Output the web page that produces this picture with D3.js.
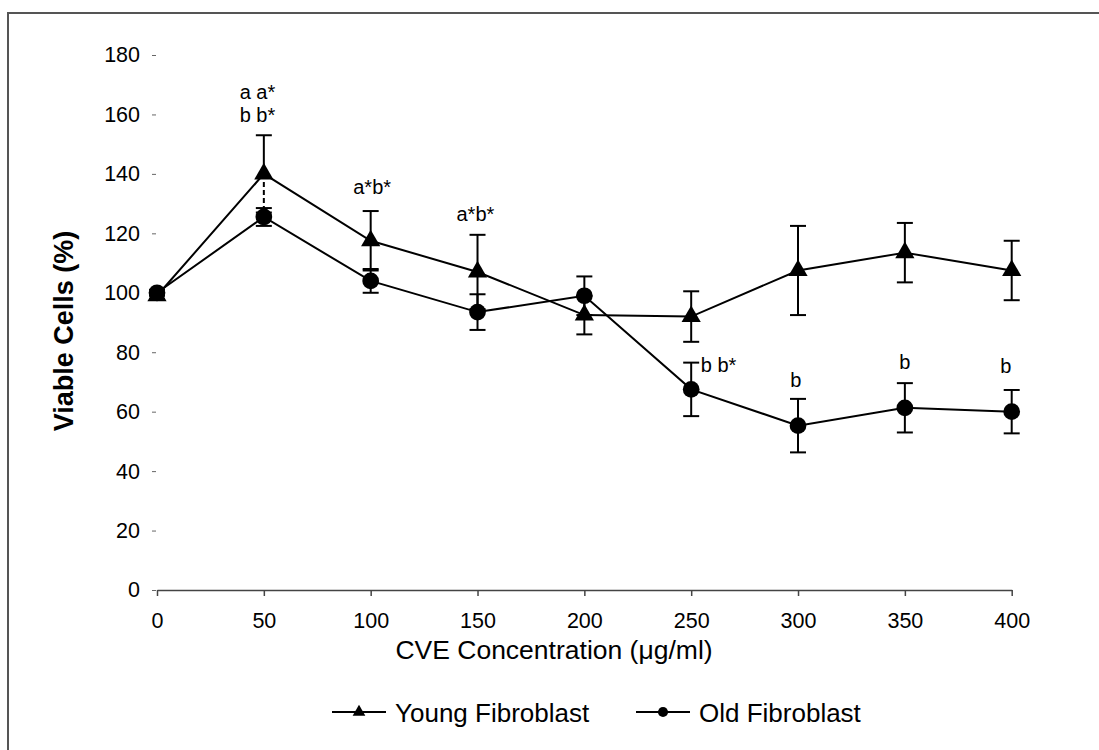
<!DOCTYPE html>
<html>
<head>
<meta charset="utf-8">
<script src="https://cdn.jsdelivr.net/npm/d3@7"></script>
<style>
  body { margin:0; background:#fff; }
  text { font-family: "Liberation Sans", Arial, sans-serif; fill:#000; }
</style>
</head>
<body>
<div id="chart"></div>
<script>
// values
const conc = [0, 50, 100, 150, 200, 250, 300, 350, 400];
const young = [99, 140, 117.5, 107, 92.5, 92, 107.5, 113.5, 107.5];
const youngErr = [1, 13, 10, 12.5, 6.5, 8.5, 15, 10, 10];
const old = [100, 125.5, 104, 93.5, 99, 67.5, 55.3, 61.3, 60];
const oldErr = [1, 3, 4, 6, 6.5, 9, 9, 8.3, 7.3];
const yTicks = [0, 20, 40, 60, 80, 100, 120, 140, 160, 180];
const xTicks = [0, 50, 100, 150, 200, 250, 300, 350, 400];
// significance letters, placed in data units
const notes = [
  { t: "a a*", x: 47, v: 167.6 },
  { t: "b b*", x: 47, v: 159.8 },
  { t: "a*b*", x: 100.7, v: 135.7 },
  { t: "a*b*", x: 149, v: 126.5 },
  { t: "b b*", x: 262.8, v: 75.7 },
  { t: "b", x: 299, v: 70.7 },
  { t: "b", x: 350, v: 76.7 },
  { t: "b", x: 397.3, v: 75.5 }
];
const seriesNames = ["Young Fibroblast", "Old Fibroblast"];

const W = 1099, H = 750;
const svg = d3.select("#chart").append("svg").attr("width", W).attr("height", H);

// outer frame, only top & left show in the picture
svg.append("rect").attr("x", 8).attr("y", 13).attr("width", W + 20).attr("height", H + 20)
  .attr("fill", "none").attr("stroke", "#555").attr("stroke-width", 2);

const x = d3.scaleLinear().domain([0, 400]).range([157, 1011.7]);
const y = d3.scaleLinear().domain([0, 180]).range([590, 55]);

// x axis
const gx = svg.append("g").attr("transform", "translate(0,590)")
  .call(d3.axisBottom(x).tickValues(xTicks).tickSize(6).tickPadding(17).tickSizeOuter(0));
gx.select(".domain").attr("stroke", "#444").attr("stroke-width", 1.5);
gx.selectAll(".tick line").attr("stroke", "#444").attr("stroke-width", 1.5);
gx.selectAll(".tick text").style("font-size", "21.5px").attr("font-family", "Liberation Sans, Arial");

// y axis: no spine, short dashes left of the labels
const gy = svg.append("g").attr("transform", "translate(157,0)")
  .call(d3.axisLeft(y).tickValues(yTicks).tickSize(5).tickPadding(12));
gy.select(".domain").remove();
gy.selectAll(".tick line").attr("stroke", "#666").attr("x1", -5).attr("x2", -1);
gy.selectAll(".tick text").style("font-size", "21.5px").attr("font-family", "Liberation Sans, Arial");

// axis titles
svg.append("text").attr("x", 554).attr("y", 659).attr("text-anchor", "middle")
  .style("font-size", "26.5px").text("CVE Concentration (\u03BCg/ml)");
svg.append("text").attr("transform", "translate(73,331) rotate(-90)").attr("text-anchor", "middle")
  .style("font-size", "27px").style("font-weight", "bold").text("Viable Cells (%)");

const line = d3.line().x((d, i) => x(conc[i])).y(d => y(d));

function errorBars(vals, errs, dashedAt) {
  const g = svg.append("g").attr("stroke", "#000").attr("stroke-width", 2);
  vals.forEach((v, i) => {
    const cx = x(conc[i]);
    const up = y(v + errs[i]), dn = y(v - errs[i]), mid = y(v);
    g.append("line").attr("x1", cx).attr("x2", cx).attr("y1", mid).attr("y2", up);
    const low = g.append("line").attr("x1", cx).attr("x2", cx).attr("y1", mid).attr("y2", dn);
    if (dashedAt.includes(conc[i])) low.attr("stroke-dasharray", "5,3");
    g.append("line").attr("x1", cx - 8).attr("x2", cx + 8).attr("y1", up).attr("y2", up);
    g.append("line").attr("x1", cx - 8).attr("x2", cx + 8).attr("y1", dn).attr("y2", dn);
  });
}

errorBars(old, oldErr, []);
errorBars(young, youngErr, [50]);

svg.append("path").datum(young).attr("fill", "none").attr("stroke", "#000").attr("stroke-width", 2).attr("d", line);
svg.append("path").datum(old).attr("fill", "none").attr("stroke", "#000").attr("stroke-width", 2).attr("d", line);

const tri = d3.symbol().type(d3.symbolTriangle).size(160);
const dot = d3.symbol().type(d3.symbolCircle).size(220);

svg.selectAll(".oldpt").data(old).enter().append("path").attr("class", "oldpt")
  .attr("d", dot).attr("fill", "#000")
  .attr("transform", (d, i) => `translate(${x(conc[i])},${y(d)})`);
svg.selectAll(".youngpt").data(young).enter().append("path").attr("class", "youngpt")
  .attr("d", tri).attr("fill", "#000")
  .attr("transform", (d, i) => `translate(${x(conc[i])},${y(d)})`);

// letters
svg.selectAll(".note").data(notes).enter().append("text").attr("class", "note")
  .attr("x", d => x(d.x)).attr("y", d => y(d.v)).attr("dy", "0.35em")
  .attr("text-anchor", "middle").style("font-size", "20px").text(d => d.t);

// legend
const lg = svg.append("g");
const items = [
  { name: seriesNames[0], sym: d3.symbol().type(d3.symbolTriangle).size(70), x0: 332 },
  { name: seriesNames[1], sym: d3.symbol().type(d3.symbolCircle).size(80), x0: 636 }
];
items.forEach(it => {
  lg.append("line").attr("x1", it.x0).attr("x2", it.x0 + 54).attr("y1", 712).attr("y2", 712)
    .attr("stroke", "#000").attr("stroke-width", 2);
  lg.append("path").attr("d", it.sym).attr("fill", "#000")
    .attr("transform", `translate(${it.x0 + 27},712)`);
  lg.append("text").attr("x", it.x0 + 63).attr("y", 722).style("font-size", "26px").text(it.name);
});
</script>
</body>
</html>
